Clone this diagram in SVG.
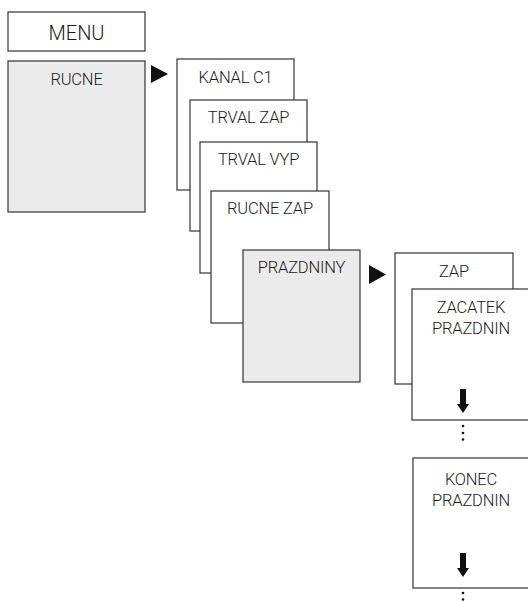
<svg xmlns="http://www.w3.org/2000/svg" width="528" height="601" viewBox="0 0 528 601">
<style>
.box{fill:#fff;stroke:#333;stroke-width:1.2}
.gray{fill:#ebebeb;stroke:#333;stroke-width:1.2}
.t{font-family:Roboto,"Liberation Sans",sans-serif;font-size:16.5px;font-weight:300;fill:#1a1a1a;text-anchor:middle;letter-spacing:-0.2px}
.big{font-size:20px;letter-spacing:0}
.tri{fill:#111}
.dot{fill:#111}
</style>
<rect width="528" height="601" fill="#fff"/>
<g id="menu"><rect class="box" x="8" y="12" width="137" height="39"/><text class="t big" x="76.5" y="40">MENU</text></g>
<g id="rucne"><rect class="gray" x="8" y="61" width="137" height="151"/><text class="t" x="76.5" y="85">RUCNE</text></g>
<g id="kanal"><rect class="box" x="177" y="59" width="117" height="131"/><text class="t" x="235.5" y="83">KANAL C1</text></g>
<g id="trvalzap"><rect class="box" x="190" y="100" width="117" height="131"/><text class="t" x="248.5" y="123">TRVAL ZAP</text></g>
<g id="trvalvyp"><rect class="box" x="200" y="142" width="117" height="131"/><text class="t" x="258.5" y="165">TRVAL VYP</text></g>
<g id="rucnezap"><rect class="box" x="211" y="191" width="118" height="132"/><text class="t" x="270" y="214">RUCNE ZAP</text></g>
<g id="prazdniny"><rect class="gray" x="243" y="250" width="117" height="132"/><text class="t" x="301.5" y="273">PRAZDNINY</text></g>
<g id="zap"><rect class="box" x="395" y="253" width="118" height="131"/><text class="t" x="454" y="277">ZAP</text></g>
<g id="zacatek"><rect class="box" x="412" y="289" width="120" height="131"/><text class="t" x="471" y="313">ZACATEK</text><text class="t" x="471" y="334">PRAZDNIN</text></g>
<g id="konec"><rect class="box" x="413" y="458" width="120" height="130"/><text class="t" x="471" y="485">KONEC</text><text class="t" x="471" y="506">PRAZDNIN</text></g>
<g id="connectors">
<polygon class="tri" points="151,65 151,83 168,74"/>
<polygon class="tri" points="369,265 369,284 386,274.5"/>
<polygon class="tri" points="460,389 466,389 466,404 469,404 463,413 457,404 460,404"/>
<circle class="dot" cx="463" cy="426" r="1.3"/>
<circle class="dot" cx="463" cy="433" r="1.3"/>
<circle class="dot" cx="463" cy="439.5" r="1.3"/>
<polygon class="tri" points="460,553 466,553 466,568 469,568 463,577 457,568 460,568"/>
<circle class="dot" cx="463" cy="593" r="1.3"/>
<circle class="dot" cx="463" cy="599.5" r="1.3"/>
</g>
</svg>
